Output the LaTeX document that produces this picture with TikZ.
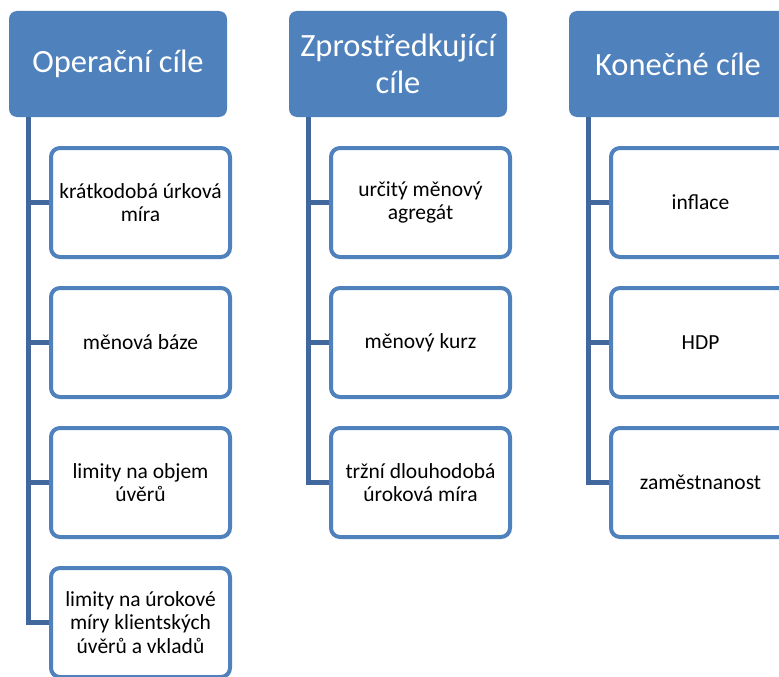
\documentclass[tikz,border=0pt]{standalone}
\usepackage{fontspec}
\setmainfont{Carlito}
\definecolor{modra}{HTML}{4F81BD}
\definecolor{tmava}{HTML}{41689C}
\begin{document}
\begin{tikzpicture}[x=1pt,y=-1pt,
    hlava/.style={fill=modra, rounded corners=8pt, minimum width=218pt, minimum height=106pt,
        text=white, align=center, inner sep=0pt, font=\fontsize{32.5}{37}\selectfont},
    cil/.style={draw=modra, line width=4pt, fill=white, rounded corners=9pt, minimum width=179pt,
        minimum height=109pt, align=center, inner sep=0pt, font=\fontsize{21.5}{23.5}\selectfont},
    spoj/.style={draw=tmava, line width=5pt}]
    \useasboundingbox (0,0) rectangle (779,677);

    % hlavicky
    \node[hlava] (op) at (118,64) {Operační cíle};
    \node[hlava] (zp) at (398,64) {Zprostředkující\\cíle};
    \node[hlava] (ko) at (678,64) {Konečné cíle};

    % cile
    \node[cil] (op1) at (140.5,202.5) {krátkodobá úrková\\míra};
    \node[cil] (op2) at (140.5,342.5) {měnová báze};
    \node[cil] (op3) at (140.5,482.5) {limity na objem\\úvěrů};
    \node[cil] (op4) at (140.5,622.5) {limity na úrokové\\míry klientských\\úvěrů a vkladů};

    \node[cil] (zp1) at (420.5,202.5) {určitý měnový\\agregát};
    \node[cil] (zp2) at (420.5,342.5) {měnový kurz};
    \node[cil] (zp3) at (420.5,482.5) {tržní dlouhodobá\\úroková míra};

    \node[cil] (ko1) at (700.5,202.5) {inflace};
    \node[cil] (ko2) at (700.5,342.5) {HDP};
    \node[cil] (ko3) at (700.5,482.5) {zaměstnanost};

    % spojnice
    \foreach \s/\n in {op/4,zp/3,ko/3}{
        \draw[spoj] ([xshift=19.5pt]\s.south west) |- (\s\n.west);
        \foreach \i in {1,...,\n}
            \draw[spoj] (\s\i.west) -- ++(-21,0);
    }
\end{tikzpicture}
\end{document}
